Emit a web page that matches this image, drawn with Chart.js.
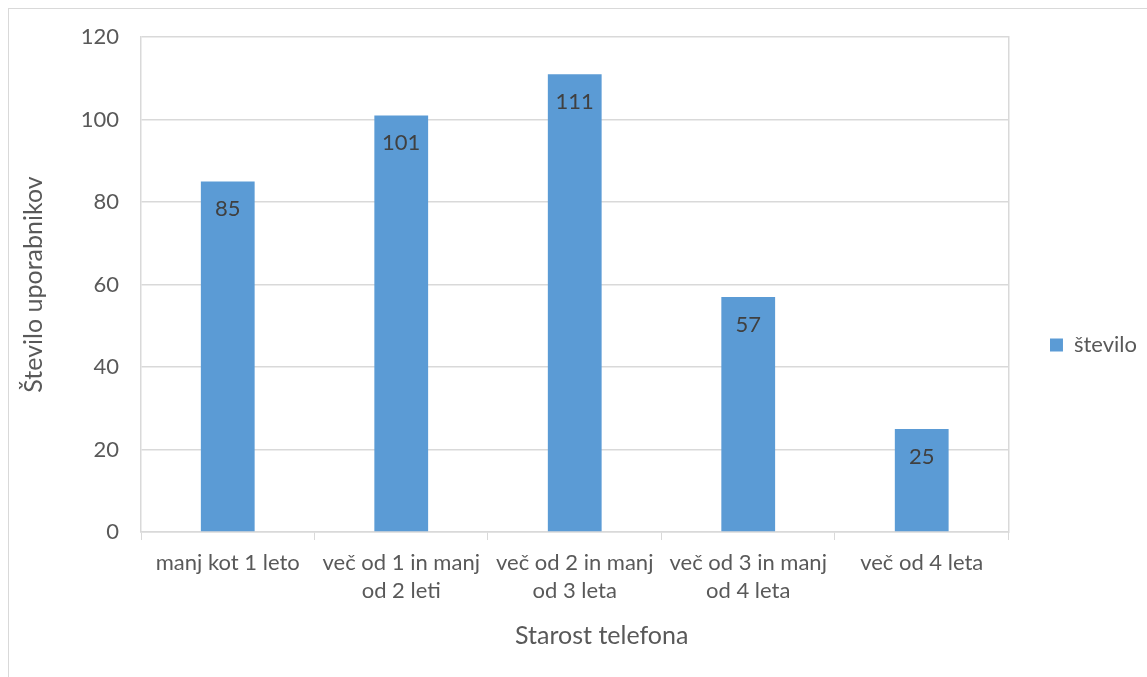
<!DOCTYPE html>
<html>
<head>
<meta charset="utf-8">
<script src="https://cdn.jsdelivr.net/npm/chart.js@4.4.1/dist/chart.umd.min.js"></script>
<style>
  html, body { margin: 0; padding: 0; background: #fff; }
  #wrap { position: relative; width: 1147px; height: 677px; }
  #frame { position: absolute; left: 8px; top: 8px; right: -10px; bottom: -10px; border: 1px solid #d9d9d9; }
  canvas { position: absolute; left: 0; top: 0; }
</style>
</head>
<body>
<div id="wrap">
  <div id="frame"></div>
  <canvas id="chart" width="1147" height="677"></canvas>
</div>
<script>
// starost telefona
const categories = [
  ["manj kot 1 leto"],
  ["več od 1 in manj", "od 2 leti"],
  ["več od 2 in manj", "od 3 leta"],
  ["več od 3 in manj", "od 4 leta"],
  ["več od 4 leta"],
];
const stevilo = [85, 101, 111, 57, 25];
const yTicks = [0, 20, 40, 60, 80, 100, 120];
const xTitle = "Starost telefona";

const FONT = "Lato, 'Liberation Sans', sans-serif";
const gridColor = "#d9d9d9";

// labels inside the bar end + x axis title (sits a bit right of centre, like excel)
const barLabels = {
  id: "barLabels",
  afterDatasetsDraw(chart) {
    const ctx = chart.ctx;
    const meta = chart.getDatasetMeta(0);
    ctx.save();
    ctx.font = "22px " + FONT;
    ctx.fillStyle = "#404040";
    ctx.textAlign = "center";
    ctx.textBaseline = "middle";
    meta.data.forEach((bar, i) => {
      ctx.fillText(String(stevilo[i]), bar.x, bar.y + 28);
    });
    const xs = chart.scales.x;
    ctx.font = "25px " + FONT;
    ctx.fillStyle = "#595959";
    ctx.fillText(xTitle, (xs.left + xs.right) / 2 + 27, xs.bottom - 41);
    ctx.restore();
  },
};

new Chart(document.getElementById("chart"), {
  type: "bar",
  data: {
    labels: categories,
    datasets: [
      {
        label: "število",
        data: stevilo,
        backgroundColor: "#5b9bd5",
        borderWidth: 0,
        barPercentage: 0.31,
        categoryPercentage: 1,
      },
    ],
  },
  options: {
    responsive: false,
    animation: false,
    layout: { padding: { top: 13, right: 0, left: 0, bottom: 0 } },
    plugins: {
      tooltip: { enabled: false },
      legend: {
        position: "right",
        labels: {
          boxWidth: 13,
          boxHeight: 13,
          color: "#595959",
          font: { family: FONT, size: 22 },
          padding: 13,
        },
      },
    },
    scales: {
      x: {
        offset: true,
        grid: {
          display: true,
          drawOnChartArea: false,
          color: gridColor,
          tickLength: 8,
          offset: true,
        },
        border: { display: true, color: gridColor, width: 1.5 },
        ticks: {
          color: "#595959",
          font: { family: FONT, size: 22, lineHeight: 1.28 },
          maxRotation: 0,
          autoSkip: false,
          padding: 9,
        },
        afterFit(scale) { scale.height = 145; },
      },
      // empty top band so the plot starts lower than the legend band
      x2: {
        position: "top",
        grid: { display: false, drawTicks: false },
        border: { display: false },
        ticks: { display: false },
        afterFit(scale) { scale.height = 24; },
      },
      y: {
        min: 0,
        max: 120,
        afterBuildTicks(scale) { scale.ticks = yTicks.map(v => ({ value: v })); },
        grid: { color: gridColor, drawTicks: false, lineWidth: 1.5 },
        border: { display: true, color: gridColor, width: 1.5 },
        ticks: {
          color: "#595959",
          font: { family: FONT, size: 22 },
          padding: 22,
        },
        title: {
          display: true,
          text: "Število uporabnikov",
          color: "#595959",
          font: { family: FONT, size: 25 },
          padding: { top: 19, bottom: 0 },
        },
        afterFit(scale) { scale.width = 141; },
      },
      y2: {
        position: "right",
        min: 0,
        max: 120,
        grid: { display: false, drawTicks: false },
        border: { display: true, color: gridColor, width: 1.5 },
        ticks: { display: false },
        afterFit(scale) { scale.width = 28.5; },
      },
    },
  },
  plugins: [barLabels],
});
</script>
</body>
</html>
